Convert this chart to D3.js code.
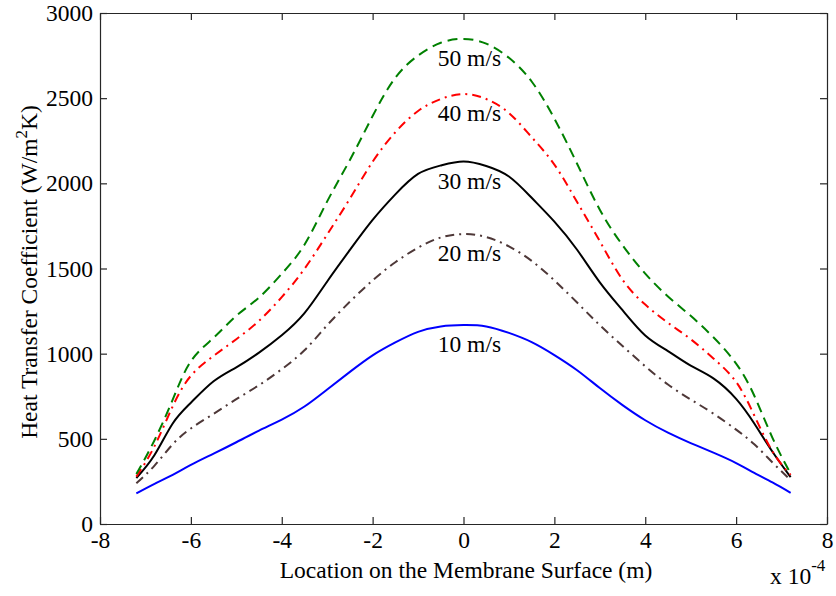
<!DOCTYPE html>
<html>
<head>
<meta charset="utf-8">
<script src="https://cdn.jsdelivr.net/npm/d3@7"></script>
<style>
  html, body { margin: 0; padding: 0; background: #fff; }
  svg { display: block; }
  text { font-family: "Liberation Serif", "Times New Roman", serif; fill: #000; }
</style>
</head>
<body>
<svg id="chart" width="836" height="596"></svg>
<script>
// Location along the membrane surface (units of 1e-4 m)
const positions = [-7.2, -6.8, -6.4, -6.0, -5.5, -5.0, -4.5, -4.0, -3.5, -3.0, -2.5, -2.0, -1.5, -1.0, -0.5, 0,
                   0.5, 1.0, 1.5, 2.0, 2.5, 3.0, 3.5, 4.0, 4.5, 5.0, 5.5, 6.0, 6.4, 6.8, 7.2];

// Heat transfer coefficient (W/m^2K) for each inlet velocity
const h10 = [180, 236, 289, 347, 413, 480, 548, 613, 690, 790, 893, 990, 1066, 1128, 1160, 1168,
             1160, 1122, 1068, 992, 903, 798, 698, 609, 536, 475, 419, 358, 300, 244, 183];
const h20 = [239, 343, 468, 561, 647, 733, 815, 909, 1020, 1167, 1305, 1430, 1537, 1622, 1682, 1702,
             1685, 1630, 1545, 1430, 1300, 1167, 1045, 926, 819, 731, 648, 554, 468, 361, 258];
const h30 = [270, 405, 590, 712, 838, 920, 1006, 1108, 1238, 1424, 1609, 1785, 1935, 2055, 2105, 2128,
             2102, 2040, 1915, 1775, 1610, 1419, 1255, 1107, 1015, 930, 855, 735, 590, 424, 275];
const h40 = [278, 457, 691, 870, 987, 1085, 1193, 1332, 1498, 1700, 1910, 2127, 2300, 2425, 2495, 2524,
             2495, 2413, 2271, 2110, 1890, 1660, 1434, 1288, 1181, 1085, 972, 834, 637, 426, 288];
const h50 = [293, 492, 730, 955, 1093, 1222, 1330, 1469, 1640, 1894, 2137, 2395, 2620, 2750, 2825, 2848,
             2820, 2737, 2598, 2380, 2115, 1845, 1637, 1470, 1336, 1222, 1096, 942, 753, 506, 295];

const speedLabels = ["10 m/s", "20 m/s", "30 m/s", "40 m/s", "50 m/s"];
const xTicks = [-8, -6, -4, -2, 0, 2, 4, 6, 8];
const yTicks = [0, 500, 1000, 1500, 2000, 2500, 3000];

// Line styling per series
const series = [
  { ys: h10, color: "#0000ff", dash: null,      label: speedLabels[0] },
  { ys: h20, color: "#4e3838", dash: "9,5,2,5", label: speedLabels[1] },
  { ys: h30, color: "#000000", dash: null,      label: speedLabels[2] },
  { ys: h40, color: "#ff0000", dash: "9,5,2,5", label: speedLabels[3] },
  { ys: h50, color: "#008000", dash: "10,6",    label: speedLabels[4] }
];

const svg = d3.select("#chart");
const plotLeft = 100, plotRight = 827, plotTop = 13, plotBottom = 524;
const x = d3.scaleLinear().domain([-8, 8]).range([plotLeft, plotRight]);
const y = d3.scaleLinear().domain([0, 3000]).range([plotBottom, plotTop]);

const fs = 23.5;
const tickLen = 7;

// Smooth curves through the sampled points
const line = d3.line()
  .x(d => x(d[0]))
  .y(d => y(d[1]))
  .curve(d3.curveNatural);

series.forEach(s => {
  const pts = positions.map((p, i) => [p, s.ys[i]]);
  svg.append("path")
    .attr("d", line(pts))
    .attr("fill", "none")
    .attr("stroke", s.color)
    .attr("stroke-width", 2)
    .attr("stroke-dasharray", s.dash);
});

// Speed labels placed just under each peak
series.forEach(s => {
  const peak = d3.max(s.ys);
  svg.append("text")
    .attr("x", x(0.13))
    .attr("y", y(peak) + 27)
    .attr("text-anchor", "middle")
    .attr("font-size", fs)
    .text(s.label);
});

// Axes: bottom/left with labels, top/right mirrored without labels
const axisColor = "#262626";
const fmt = d => String(d);
const bottomAxis = d3.axisBottom(x).tickValues(xTicks).tickSizeInner(-tickLen).tickSizeOuter(0).tickPadding(7).tickFormat(fmt);
const topAxis = d3.axisTop(x).tickValues(xTicks).tickSizeInner(-tickLen).tickSizeOuter(0).tickFormat("");
const leftAxis = d3.axisLeft(y).tickValues(yTicks).tickSizeInner(-tickLen).tickSizeOuter(0).tickPadding(7).tickFormat(fmt);
const rightAxis = d3.axisRight(y).tickValues(yTicks).tickSizeInner(-tickLen).tickSizeOuter(0).tickFormat("");

function styleAxis(g) {
  g.select(".domain").attr("stroke", axisColor).attr("stroke-width", 1.2);
  g.selectAll(".tick line").attr("stroke", axisColor).attr("stroke-width", 1.2);
  g.selectAll(".tick text")
    .attr("font-size", fs)
    .attr("fill", "#000");
  g.attr("font-family", null).attr("font-size", null);
}

svg.append("g").attr("transform", `translate(0,${plotBottom})`).call(bottomAxis).call(styleAxis);
svg.append("g").attr("transform", `translate(0,${plotTop})`).call(topAxis).call(styleAxis);
svg.append("g").attr("transform", `translate(${plotLeft},0)`).call(leftAxis).call(styleAxis);
svg.append("g").attr("transform", `translate(${plotRight},0)`).call(rightAxis).call(styleAxis);

// Axis titles
svg.append("text")
  .attr("x", 466)
  .attr("y", 578)
  .attr("text-anchor", "middle")
  .attr("font-size", fs)
  .text("Location on the Membrane Surface (m)");

const yTitle = svg.append("text")
  .attr("transform", `translate(37,272) rotate(-90)`)
  .attr("text-anchor", "middle")
  .attr("font-size", fs);
yTitle.append("tspan").text("Heat Transfer Coefficient (W/m");
yTitle.append("tspan").attr("dy", -10).attr("font-size", 17).text("2");
yTitle.append("tspan").attr("dy", 10).text("K)");

// Exponent for the x axis
const expo = svg.append("text")
  .attr("x", 770)
  .attr("y", 584)
  .attr("font-size", fs);
expo.append("tspan").text("x 10");
expo.append("tspan").attr("dy", -13).attr("font-size", 17).text("-4");
</script>
</body>
</html>
